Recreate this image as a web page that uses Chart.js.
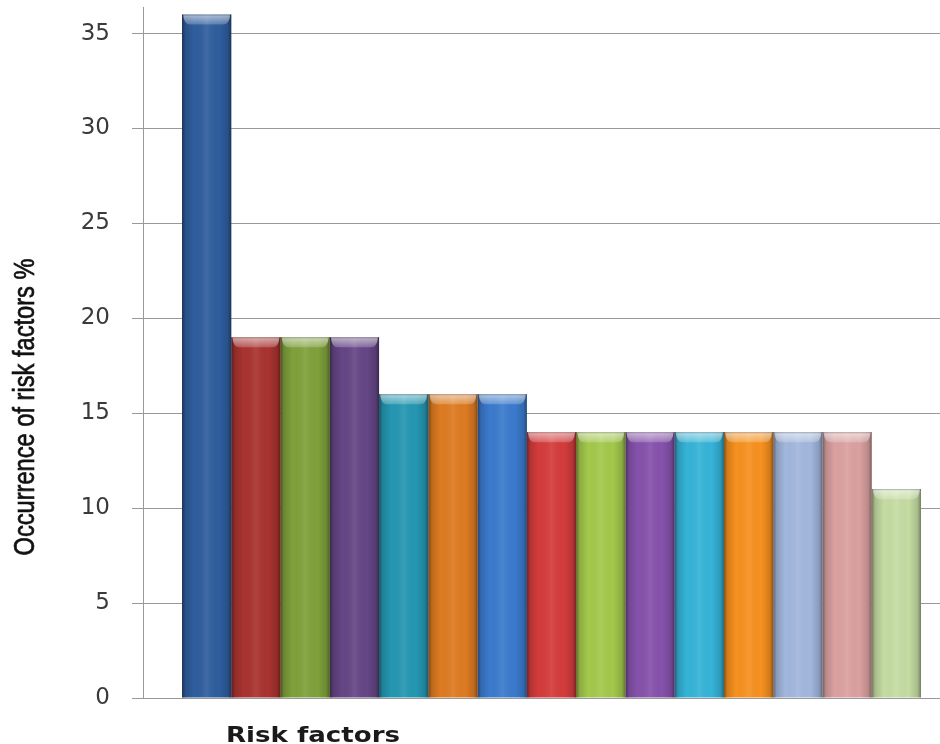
<!DOCTYPE html>
<html>
<head>
<meta charset="utf-8">
<title>Occurrence of risk factors</title>
<script src="https://cdn.jsdelivr.net/npm/chart.js@4/dist/chart.umd.min.js"></script>
<style>
  html, body { margin: 0; padding: 0; background: #fff; overflow: hidden; width: 940px; height: 744px; }
  canvas { display: block; }
</style>
</head>
<body>
<canvas id="chart" width="960" height="744" style="width:960px;height:744px"></canvas>
<script>
// Single category, one series per risk factor
const categories = ['Risk factors'];
const factorNames = [
  'Factor 1', 'Factor 2', 'Factor 3', 'Factor 4', 'Factor 5',
  'Factor 6', 'Factor 7', 'Factor 8', 'Factor 9', 'Factor 10',
  'Factor 11', 'Factor 12', 'Factor 13', 'Factor 14', 'Factor 15'
];
const occurrence = [36, 19, 19, 19, 16, 16, 16, 14, 14, 14, 14, 14, 14, 14, 11];
const barColors = [
  '#2F5E9E', '#A9332F', '#7FA13B', '#654686', '#2497B2',
  '#DE7B22', '#3B7BCD', '#D53C3C', '#A3C94B', '#8652AC',
  '#35B4D8', '#F7911F', '#A2B7DD', '#DBA1A1', '#C5DCA3'
];
const yTicks = [0, 5, 10, 15, 20, 25, 30, 35];
const yAxisTitle = 'Occurrence of risk factors %';
const xAxisTitle = 'Risk factors';

// Cylinder-like shading and a lighter bevel on top of each bar
const barShading = {
  id: 'barShading',
  afterDatasetDraw(chart, args) {
    const ctx = chart.ctx;
    args.meta.data.forEach(el => {
      const { x, y, base, width } = el.getProps(['x', 'y', 'base', 'width'], true);
      const x0 = x - width / 2, x1 = x + width / 2;
      const h = base - y;
      ctx.save();
      const g = ctx.createLinearGradient(x0, 0, x1, 0);
      g.addColorStop(0, 'rgba(0,0,0,0.45)');
      g.addColorStop(0.07, 'rgba(0,0,0,0.15)');
      g.addColorStop(0.25, 'rgba(0,0,0,0)');
      g.addColorStop(0.5, 'rgba(255,255,255,0.08)');
      g.addColorStop(0.75, 'rgba(0,0,0,0)');
      g.addColorStop(0.93, 'rgba(0,0,0,0.15)');
      g.addColorStop(1, 'rgba(0,0,0,0.42)');
      ctx.fillStyle = g;
      ctx.fillRect(x0, y, width, h);

      const capH = 10, inset = 8;
      ctx.beginPath();
      ctx.moveTo(x0 + 1, y);
      ctx.lineTo(x1 - 1, y);
      ctx.quadraticCurveTo(x1 - 2, y + capH, x1 - inset, y + capH);
      ctx.lineTo(x0 + inset, y + capH);
      ctx.quadraticCurveTo(x0 + 2, y + capH, x0 + 1, y);
      ctx.closePath();
      const cg = ctx.createLinearGradient(0, y, 0, y + capH);
      cg.addColorStop(0, 'rgba(255,255,255,0.6)');
      cg.addColorStop(1, 'rgba(255,255,255,0.2)');
      ctx.fillStyle = cg;
      ctx.fill();

      ctx.fillStyle = 'rgba(0,0,0,0.25)';
      ctx.fillRect(x0, y, width, 1);
      ctx.restore();
    });
  }
};

// Axis titles
const axisTitles = {
  id: 'axisTitles',
  afterDraw(chart) {
    const ctx = chart.ctx;
    const area = chart.chartArea;

    ctx.save();
    ctx.font = '22px "Liberation Sans Narrow", "Liberation Sans", sans-serif';
    ctx.fillStyle = '#111';
    ctx.strokeStyle = '#111';
    ctx.lineWidth = 0.5;
    ctx.textAlign = 'center';
    ctx.textBaseline = 'middle';
    const w = ctx.measureText(yAxisTitle).width;
    ctx.translate(26, 407);
    ctx.rotate(-Math.PI / 2);
    ctx.scale(297 / w, 1.3);
    ctx.fillText(yAxisTitle, 0, 0);
    ctx.strokeText(yAxisTitle, 0, 0);
    ctx.restore();

    ctx.save();
    ctx.font = 'bold 21px "DejaVu Sans", Verdana, sans-serif';
    ctx.fillStyle = '#1a1a1a';
    ctx.textAlign = 'center';
    ctx.textBaseline = 'alphabetic';
    const w2 = ctx.measureText(xAxisTitle).width;
    ctx.translate(313, area.bottom + 44);
    ctx.scale(174 / w2, 1);
    ctx.fillText(xAxisTitle, 0, 0);
    ctx.restore();
  }
};

new Chart(document.getElementById('chart'), {
  type: 'bar',
  data: {
    labels: categories,
    datasets: factorNames.map((name, i) => ({
      label: name,
      data: [occurrence[i]],
      backgroundColor: barColors[i],
      borderWidth: 0
    }))
  },
  options: {
    responsive: false,
    animation: false,
    layout: { padding: { top: 7, right: 0, bottom: 46, left: 0 } },
    categoryPercentage: 0.9045,
    barPercentage: 1,
    plugins: {
      legend: { display: false },
      tooltip: { enabled: false }
    },
    scales: {
      x: { display: false },
      y: {
        min: 0,
        max: 36.4,
        afterBuildTicks(scale) { scale.ticks = yTicks.map(v => ({ value: v })); },
        afterFit(scale) {
          scale.width = 143;
          scale.paddingTop = 0;
          scale.paddingBottom = 0;
        },
        grid: { color: '#999', lineWidth: 1, tickLength: 11, drawTicks: true },
        border: { display: true, color: '#999', width: 1 },
        ticks: {
          padding: 22,
          color: '#3a3a3a',
          font: { family: '"DejaVu Sans", Verdana, sans-serif', size: 23 }
        }
      }
    }
  },
  plugins: [barShading, axisTitles]
});
</script>
</body>
</html>
